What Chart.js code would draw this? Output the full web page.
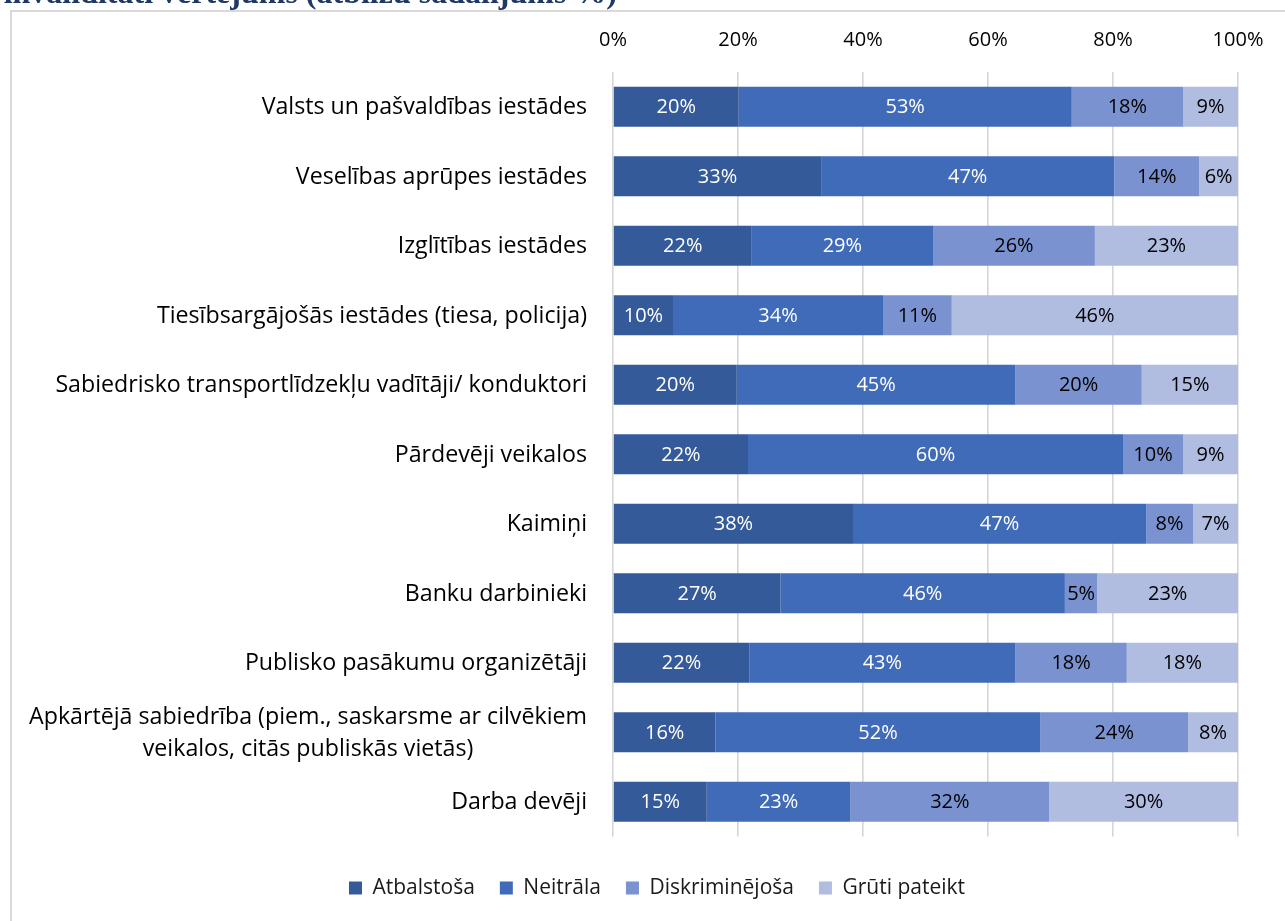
<!DOCTYPE html>
<html lang="lv">
<head>
<meta charset="utf-8">
<title>Attieksme</title>
<script src="https://cdn.jsdelivr.net/npm/chart.js@4"></script>
<style>
  html, body { margin: 0; padding: 0; background: #fff; overflow: hidden; }
  #frame { position: absolute; left: 10px; top: 10px; width: 1400px; height: 1000px; border: 2px solid #d9d9d9; box-sizing: border-box; }
  #wrap { position: absolute; left: 0; top: 0; width: 1285px; height: 921px; }
</style>
</head>
<body>
<div id="frame"></div>
<div id="wrap"><canvas id="chart" width="1285" height="921"></canvas></div>
<script>
// Kategorijas
const categories = [
    'Valsts un pašvaldības iestādes',
    'Veselības aprūpes iestādes',
    'Izglītības iestādes',
    'Tiesībsargājošās iestādes (tiesa, policija)',
    'Sabiedrisko transportlīdzekļu vadītāji/ konduktori',
    'Pārdevēji veikalos',
    'Kaimiņi',
    'Banku darbinieki',
    'Publisko pasākumu organizētāji',
    ['Apkārtējā sabiedrība (piem., saskarsme ar cilvēkiem', 'veikalos, citās publiskās vietās)'],
    'Darba devēji'
];

const seriesNames = ['Atbalstoša', 'Neitrāla', 'Diskriminējoša', 'Grūti pateikt'];

// Vērtības (%)
const atbalstosa     = [20.1, 33.3, 22.2,  9.6, 19.8, 21.6, 38.4, 26.8, 21.8, 16.4, 15.0];
const neitrala       = [53.3, 46.9, 29.0, 33.6, 44.6, 60.0, 46.9, 45.5, 42.6, 52.0, 23.0];
const diskriminejosa = [17.8, 13.6, 25.9, 11.0, 20.2,  9.6,  7.5,  5.2, 17.8, 23.6, 31.8];
const grutiPateikt   = [ 8.8,  6.2, 22.9, 45.8, 15.4,  8.8,  7.2, 22.5, 17.8,  8.0, 30.2];

const xTicks = [0, 20, 40, 60, 80, 100];

const colors = ['#345A9A', '#406BB8', '#7A93D0', '#B0BCE0'];
const labelColors = ['#ffffff', '#ffffff', '#000000', '#000000'];
const FONT = '"Open Sans", "Noto Sans", sans-serif';

Chart.defaults.font.family = FONT;

// Vērtību uzraksti joslās
const segmentLabels = {
    id: 'segmentLabels',
    afterDatasetsDraw(chart) {
        const ctx = chart.ctx;
        ctx.save();
        ctx.font = '20px ' + FONT;
        ctx.textAlign = 'center';
        ctx.textBaseline = 'middle';
        chart.data.datasets.forEach((ds, di) => {
            const meta = chart.getDatasetMeta(di);
            if (meta.hidden) return;
            ctx.fillStyle = labelColors[di];
            meta.data.forEach((bar, i) => {
                ctx.fillText(Math.round(ds.data[i]) + '%', (bar.x + bar.base) / 2, bar.y + 1);
            });
        });
        ctx.restore();
    }
};

// Kategoriju nosaukumi un nogrieztais virsraksts
const categoryLabels = {
    id: 'categoryLabels',
    afterDraw(chart) {
        const ctx = chart.ctx;
        const yScale = chart.scales.y;
        const right = chart.chartArea.left - 26;
        ctx.save();
        ctx.font = '23.2px ' + FONT;
        ctx.fillStyle = '#000';
        ctx.textBaseline = 'middle';
        categories.forEach((lab, i) => {
            const lines = Array.isArray(lab) ? lab : [lab];
            const cy = yScale.getPixelForValue(i) + 1;
            const w = Math.max(...lines.map(l => ctx.measureText(l).width));
            lines.forEach((line, k) => {
                const y = cy + (k - (lines.length - 1) / 2) * 32;
                if (lines.length > 1) {
                    ctx.textAlign = 'center';
                    ctx.fillText(line, right - w / 2, y);
                } else {
                    ctx.textAlign = 'right';
                    ctx.fillText(line, right, y);
                }
            });
        });
        ctx.font = 'bold 32px "Liberation Serif", serif';
        ctx.fillStyle = '#1F3864';
        ctx.textAlign = 'right';
        ctx.textBaseline = 'alphabetic';
        ctx.fillText('invaliditāti vērtējums (atbilžu sadalījums %)', 617, 3);
        ctx.restore();
    }
};

const datasets = [atbalstosa, neitrala, diskriminejosa, grutiPateikt].map((values, i) => ({
    label: seriesNames[i],
    data: values,
    backgroundColor: colors[i],
    borderWidth: 0,
    barPercentage: 0.575,
    categoryPercentage: 1
}));

new Chart(document.getElementById('chart'), {
    type: 'bar',
    data: {
        labels: categories,
        datasets: datasets
    },
    options: {
        indexAxis: 'y',
        responsive: false,
        animation: false,
        layout: { padding: { left: 76, right: 47, top: 0, bottom: 12.5 } },
        scales: {
            x: {
                position: 'top',
                stacked: true,
                min: 0,
                max: 100,
                afterBuildTicks(scale) {
                    scale.ticks = xTicks.map(v => ({ value: v }));
                },
                afterFit(scale) { scale.height = 72; },
                ticks: {
                    callback: v => v + '%',
                    color: '#000',
                    font: { size: 20 },
                    padding: 20
                },
                grid: { color: '#d6d6d6', lineWidth: 1.6, drawTicks: false },
                border: { display: false }
            },
            y: {
                stacked: true,
                afterFit(scale) { scale.width = 537; },
                ticks: { display: false },
                grid: { display: false },
                border: { display: false }
            }
        },
        plugins: {
            legend: {
                position: 'bottom',
                title: { display: true, text: '', font: { size: 5 }, padding: { top: 10, bottom: 0 } },
                labels: {
                    boxWidth: 13,
                    boxHeight: 13,
                    padding: 25,
                    color: '#1a1a1a',
                    font: { size: 21 }
                }
            },
            tooltip: { enabled: false }
        }
    },
    plugins: [segmentLabels, categoryLabels]
});
</script>
</body>
</html>
